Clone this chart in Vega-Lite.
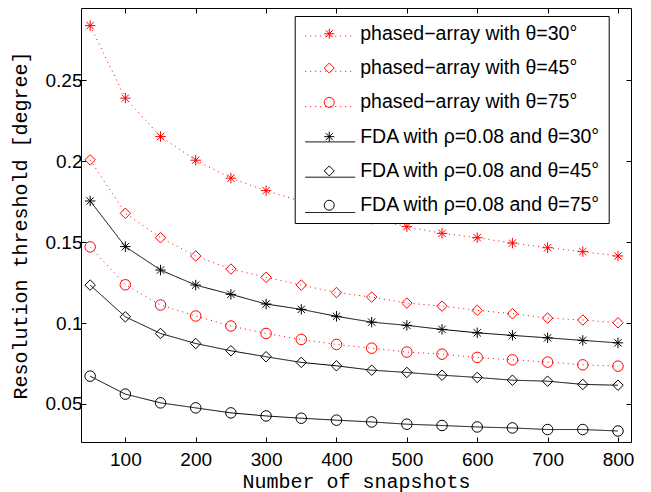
{
  "$schema": "https://vega.github.io/schema/vega-lite/v6.json",
  "autosize": "none",
  "width": 550,
  "height": 434,
  "padding": {"left": 81, "top": 8, "right": 20, "bottom": 50},
  "background": "white",
  "config": {
    "view": {"stroke": "black", "strokeWidth": 1},
    "axis": {
      "domain": false,
      "grid": false,
      "tickColor": "black",
      "tickSize": -5,
      "tickWidth": 1,
      "labelFont": "Liberation Sans",
      "labelFontSize": 19,
      "labelColor": "black",
      "titleFont": "Liberation Mono",
      "titleFontSize": 20,
      "titleFontWeight": "normal",
      "titleColor": "black"
    }
  },
  "data": {"values": [
    {"s": "phased−array with θ=30°", "n": 50, "v": 0.2839},
    {"s": "phased−array with θ=30°", "n": 100, "v": 0.2391},
    {"s": "phased−array with θ=30°", "n": 150, "v": 0.2153},
    {"s": "phased−array with θ=30°", "n": 200, "v": 0.2007},
    {"s": "phased−array with θ=30°", "n": 250, "v": 0.1896},
    {"s": "phased−array with θ=30°", "n": 300, "v": 0.1819},
    {"s": "phased−array with θ=30°", "n": 350, "v": 0.1753},
    {"s": "phased−array with θ=30°", "n": 400, "v": 0.1695},
    {"s": "phased−array with θ=30°", "n": 450, "v": 0.1643},
    {"s": "phased−array with θ=30°", "n": 500, "v": 0.1596},
    {"s": "phased−array with θ=30°", "n": 550, "v": 0.1555},
    {"s": "phased−array with θ=30°", "n": 600, "v": 0.1528},
    {"s": "phased−array with θ=30°", "n": 650, "v": 0.1495},
    {"s": "phased−array with θ=30°", "n": 700, "v": 0.1466},
    {"s": "phased−array with θ=30°", "n": 750, "v": 0.1442},
    {"s": "phased−array with θ=30°", "n": 800, "v": 0.1415},
    {"s": "phased−array with θ=45°", "n": 50, "v": 0.2009},
    {"s": "phased−array with θ=45°", "n": 100, "v": 0.1679},
    {"s": "phased−array with θ=45°", "n": 150, "v": 0.1528},
    {"s": "phased−array with θ=45°", "n": 200, "v": 0.1415},
    {"s": "phased−array with θ=45°", "n": 250, "v": 0.1334},
    {"s": "phased−array with θ=45°", "n": 300, "v": 0.1283},
    {"s": "phased−array with θ=45°", "n": 350, "v": 0.1235},
    {"s": "phased−array with θ=45°", "n": 400, "v": 0.1189},
    {"s": "phased−array with θ=45°", "n": 450, "v": 0.1161},
    {"s": "phased−array with θ=45°", "n": 500, "v": 0.1124},
    {"s": "phased−array with θ=45°", "n": 550, "v": 0.1105},
    {"s": "phased−array with θ=45°", "n": 600, "v": 0.1079},
    {"s": "phased−array with θ=45°", "n": 650, "v": 0.1058},
    {"s": "phased−array with θ=45°", "n": 700, "v": 0.1031},
    {"s": "phased−array with θ=45°", "n": 750, "v": 0.1019},
    {"s": "phased−array with θ=45°", "n": 800, "v": 0.1002},
    {"s": "phased−array with θ=75°", "n": 50, "v": 0.1471},
    {"s": "phased−array with θ=75°", "n": 100, "v": 0.1237},
    {"s": "phased−array with θ=75°", "n": 150, "v": 0.1112},
    {"s": "phased−array with θ=75°", "n": 200, "v": 0.1044},
    {"s": "phased−array with θ=75°", "n": 250, "v": 0.0982},
    {"s": "phased−array with θ=75°", "n": 300, "v": 0.0936},
    {"s": "phased−array with θ=75°", "n": 350, "v": 0.0899},
    {"s": "phased−array with θ=75°", "n": 400, "v": 0.0868},
    {"s": "phased−array with θ=75°", "n": 450, "v": 0.0845},
    {"s": "phased−array with θ=75°", "n": 500, "v": 0.0821},
    {"s": "phased−array with θ=75°", "n": 550, "v": 0.0808},
    {"s": "phased−array with θ=75°", "n": 600, "v": 0.0788},
    {"s": "phased−array with θ=75°", "n": 650, "v": 0.0773},
    {"s": "phased−array with θ=75°", "n": 700, "v": 0.0759},
    {"s": "phased−array with θ=75°", "n": 750, "v": 0.0742},
    {"s": "phased−array with θ=75°", "n": 800, "v": 0.0734},
    {"s": "FDA with ρ=0.08 and θ=30°", "n": 50, "v": 0.1755},
    {"s": "FDA with ρ=0.08 and θ=30°", "n": 100, "v": 0.1473},
    {"s": "FDA with ρ=0.08 and θ=30°", "n": 150, "v": 0.1328},
    {"s": "FDA with ρ=0.08 and θ=30°", "n": 200, "v": 0.1235},
    {"s": "FDA with ρ=0.08 and θ=30°", "n": 250, "v": 0.1178},
    {"s": "FDA with ρ=0.08 and θ=30°", "n": 300, "v": 0.1118},
    {"s": "FDA with ρ=0.08 and θ=30°", "n": 350, "v": 0.1085},
    {"s": "FDA with ρ=0.08 and θ=30°", "n": 400, "v": 0.1042},
    {"s": "FDA with ρ=0.08 and θ=30°", "n": 450, "v": 0.1006},
    {"s": "FDA with ρ=0.08 and θ=30°", "n": 500, "v": 0.0986},
    {"s": "FDA with ρ=0.08 and θ=30°", "n": 550, "v": 0.0961},
    {"s": "FDA with ρ=0.08 and θ=30°", "n": 600, "v": 0.0940},
    {"s": "FDA with ρ=0.08 and θ=30°", "n": 650, "v": 0.0924},
    {"s": "FDA with ρ=0.08 and θ=30°", "n": 700, "v": 0.0909},
    {"s": "FDA with ρ=0.08 and θ=30°", "n": 750, "v": 0.0893},
    {"s": "FDA with ρ=0.08 and θ=30°", "n": 800, "v": 0.0878},
    {"s": "FDA with ρ=0.08 and θ=45°", "n": 50, "v": 0.1235},
    {"s": "FDA with ρ=0.08 and θ=45°", "n": 100, "v": 0.1039},
    {"s": "FDA with ρ=0.08 and θ=45°", "n": 150, "v": 0.0936},
    {"s": "FDA with ρ=0.08 and θ=45°", "n": 200, "v": 0.0874},
    {"s": "FDA with ρ=0.08 and θ=45°", "n": 250, "v": 0.0829},
    {"s": "FDA with ρ=0.08 and θ=45°", "n": 300, "v": 0.0792},
    {"s": "FDA with ρ=0.08 and θ=45°", "n": 350, "v": 0.0757},
    {"s": "FDA with ρ=0.08 and θ=45°", "n": 400, "v": 0.0736},
    {"s": "FDA with ρ=0.08 and θ=45°", "n": 450, "v": 0.0709},
    {"s": "FDA with ρ=0.08 and θ=45°", "n": 500, "v": 0.0695},
    {"s": "FDA with ρ=0.08 and θ=45°", "n": 550, "v": 0.0678},
    {"s": "FDA with ρ=0.08 and θ=45°", "n": 600, "v": 0.0664},
    {"s": "FDA with ρ=0.08 and θ=45°", "n": 650, "v": 0.0647},
    {"s": "FDA with ρ=0.08 and θ=45°", "n": 700, "v": 0.0641},
    {"s": "FDA with ρ=0.08 and θ=45°", "n": 750, "v": 0.0621},
    {"s": "FDA with ρ=0.08 and θ=45°", "n": 800, "v": 0.0616},
    {"s": "FDA with ρ=0.08 and θ=75°", "n": 50, "v": 0.0672},
    {"s": "FDA with ρ=0.08 and θ=75°", "n": 100, "v": 0.0561},
    {"s": "FDA with ρ=0.08 and θ=75°", "n": 150, "v": 0.0507},
    {"s": "FDA with ρ=0.08 and θ=75°", "n": 200, "v": 0.0476},
    {"s": "FDA with ρ=0.08 and θ=75°", "n": 250, "v": 0.0445},
    {"s": "FDA with ρ=0.08 and θ=75°", "n": 300, "v": 0.0426},
    {"s": "FDA with ρ=0.08 and θ=75°", "n": 350, "v": 0.0412},
    {"s": "FDA with ρ=0.08 and θ=75°", "n": 400, "v": 0.0400},
    {"s": "FDA with ρ=0.08 and θ=75°", "n": 450, "v": 0.0389},
    {"s": "FDA with ρ=0.08 and θ=75°", "n": 500, "v": 0.0375},
    {"s": "FDA with ρ=0.08 and θ=75°", "n": 550, "v": 0.0367},
    {"s": "FDA with ρ=0.08 and θ=75°", "n": 600, "v": 0.0358},
    {"s": "FDA with ρ=0.08 and θ=75°", "n": 650, "v": 0.0352},
    {"s": "FDA with ρ=0.08 and θ=75°", "n": 700, "v": 0.0342},
    {"s": "FDA with ρ=0.08 and θ=75°", "n": 750, "v": 0.0342},
    {"s": "FDA with ρ=0.08 and θ=75°", "n": 800, "v": 0.0333}
  ]},
  "layer": [
    {
      "mark": {"type": "point", "filled": false, "strokeWidth": 1, "size": 110, "opacity": 1, "clip": true},
      "encoding": {
        "x": {"field": "n", "type": "quantitative",
              "scale": {"domain": [37, 818.5], "nice": false, "zero": false},
              "axis": {"orient": "top", "title": null, "labels": false, "values": [100,200,300,400,500,600,700,800]}},
        "y": {"field": "v", "type": "quantitative",
              "scale": {"domain": [0.0265, 0.2948], "nice": false, "zero": false},
              "axis": {"orient": "right", "title": null, "labels": false, "values": [0.05,0.1,0.15,0.2,0.25]}},
        "color": {"field": "s", "type": "nominal",
                  "scale": {"domain": ["phased−array with θ=30°","phased−array with θ=45°","phased−array with θ=75°","FDA with ρ=0.08 and θ=30°","FDA with ρ=0.08 and θ=45°","FDA with ρ=0.08 and θ=75°"],
                            "range": ["#ff0000","#ff0000","#ff0000","#000000","#000000","#000000"]},
                  "legend": {"orient": "none", "legendX": 213.7, "legendY": 8, "title": null, "symbolStrokeWidth": 1, "symbolOffset": 16.8, "strokeColor": "black", "fillColor": "white", "padding": 8, "labelFont": "Liberation Sans", "labelFontSize": 19.5, "labelColor": "black", "labelOffset": 21.2, "labelLimit": 0, "rowPadding": 13.3}},
        "shape": {"field": "s", "type": "nominal",
                  "scale": {"domain": ["phased−array with θ=30°","phased−array with θ=45°","phased−array with θ=75°","FDA with ρ=0.08 and θ=30°","FDA with ρ=0.08 and θ=45°","FDA with ρ=0.08 and θ=75°"],
                            "range": ["M-1,0L1,0M0,-1L0,1M-0.7,-0.7L0.7,0.7M-0.7,0.7L0.7,-0.7","diamond","circle","M-1,0L1,0M0,-1L0,1M-0.7,-0.7L0.7,0.7M-0.7,0.7L0.7,-0.7","diamond","circle"]}}
      }
    },
    {
      "mark": {"type": "line", "strokeWidth": 1, "clip": true},
      "encoding": {
        "x": {"field": "n", "type": "quantitative",
              "scale": {"domain": [37, 818.5], "nice": false, "zero": false},
              "axis": {"orient": "bottom", "title": "Number of snapshots", "values": [100,200,300,400,500,600,700,800], "format": "d", "labelPadding": 13, "titlePadding": 2}},
        "y": {"field": "v", "type": "quantitative",
              "scale": {"domain": [0.0265, 0.2948], "nice": false, "zero": false},
              "axis": {"orient": "left", "title": "Resolution threshold [degree]", "values": [0.05,0.1,0.15,0.2,0.25], "format": ".2~f", "labelPadding": 4, "titlePadding": 15}},
        "stroke": {"field": "s", "type": "nominal",
                  "scale": {"domain": ["phased−array with θ=30°","phased−array with θ=45°","phased−array with θ=75°","FDA with ρ=0.08 and θ=30°","FDA with ρ=0.08 and θ=45°","FDA with ρ=0.08 and θ=75°","_"],
                            "range": ["#ff0000","#ff0000","#ff0000","#000000","#000000","#000000","#000000"]},
                  "legend": {"orient": "none", "legendX": 213.7, "legendY": -7.5, "title": null, "values": ["phased−array with θ=30°","phased−array with θ=45°","phased−array with θ=75°","FDA with ρ=0.08 and θ=30°","FDA with ρ=0.08 and θ=45°","FDA with ρ=0.08 and θ=75°"], "symbolType": "stroke", "symbolSize": 2500, "symbolStrokeWidth": 1, "padding": 10, "labelFont": "Liberation Sans", "labelFontSize": 19.5, "labelOpacity": 0, "labelExpr": "''", "labelOffset": 6, "labelLimit": 0, "rowPadding": 0.3}},
        "strokeDash": {"field": "s", "type": "nominal",
                  "scale": {"domain": ["phased−array with θ=30°","phased−array with θ=45°","phased−array with θ=75°","FDA with ρ=0.08 and θ=30°","FDA with ρ=0.08 and θ=45°","FDA with ρ=0.08 and θ=75°","_"],
                            "range": [[1,4],[1,4],[1,4],[1,0],[1,0],[1,0],[1,0]]}}
      }
    }
  ],
  "resolve": {
    "axis": {"x": "independent", "y": "independent"}
  }
}
